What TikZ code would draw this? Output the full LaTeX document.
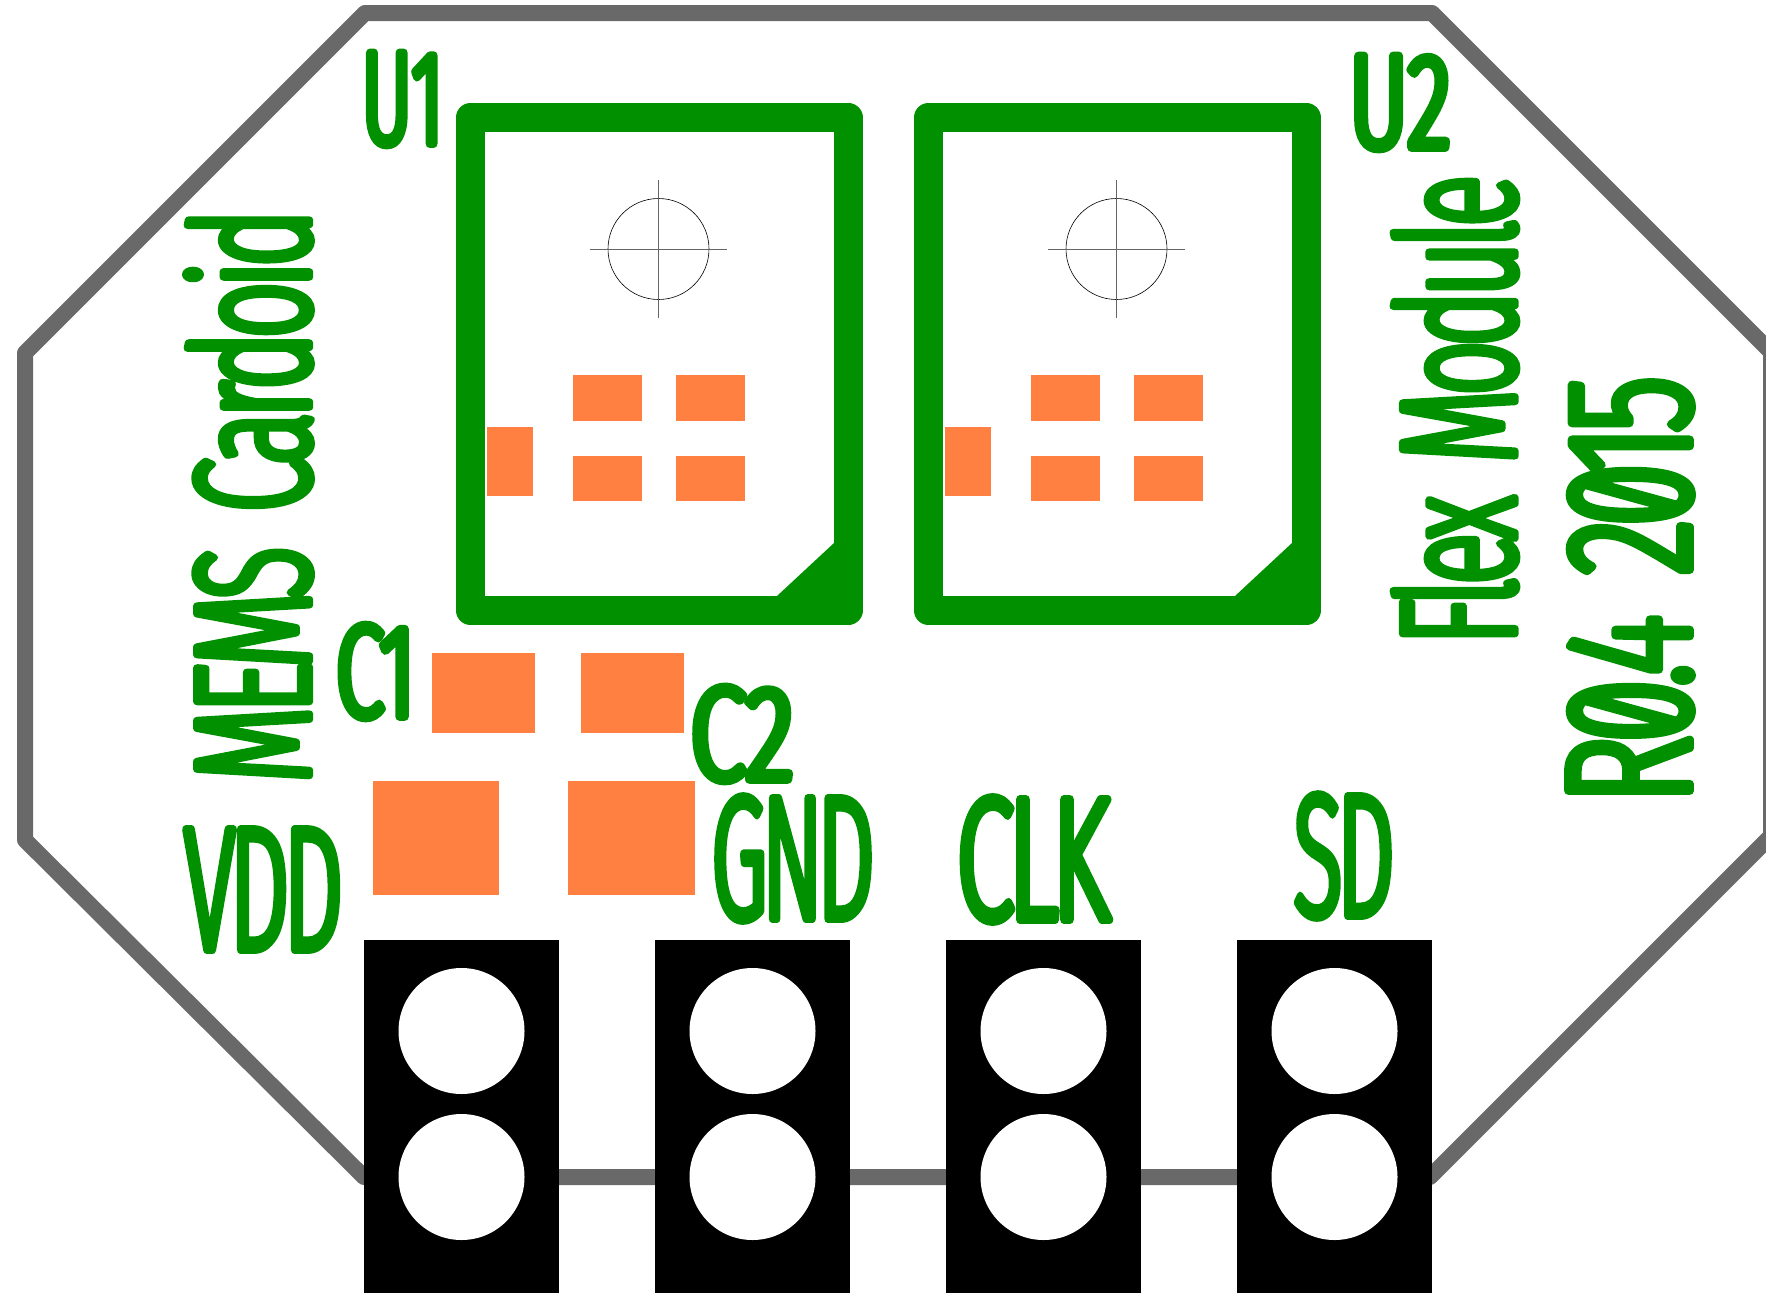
\documentclass[tikz,border=0pt]{standalone}
\usepackage{fontspec}
\usepackage{graphicx}
\newfontfamily\pcbbig[FakeStretch=0.7,FakeBold=5,LetterSpace=-4,WordSpace=1.6,RawFeature={+zero}]{Fira Sans Light}
\newfontfamily\pcbsmall[FakeStretch=0.64,FakeBold=6.2,RawFeature={+zero}]{Fira Sans Light}
\definecolor{silk}{RGB}{0,144,0}
\definecolor{edgegray}{RGB}{105,105,105}
\definecolor{padorange}{RGB}{255,128,64}
\tikzset{
  outline/.style={draw=edgegray,line width=16pt,line join=round},
  frame/.style={draw=silk,line width=29pt,line join=round},
  smd/.style={fill=padorange,draw=none},
  header/.style={fill=black,draw=none},
  hole/.style={fill=white,draw=none,circle,minimum size=126pt,inner sep=0pt},
  target/.style={draw=black,line width=0.6pt},
  crosshair/.style={draw=black!60,line width=0.7pt},
  pcb/.style={inner sep=0pt,outer sep=0pt,text=silk}
}
% name, centre x, centre y, rotation, length along text, height, font, text
\newcommand{\pcbtext}[8]{\node[pcb,rotate=#4] (#1) at (#2,#3) {\special{pdf:code 1 j 1 J}\resizebox{\dimexpr#5pt-9pt\relax}{\dimexpr#6pt-9pt\relax}{#7#8}};}
\newcommand{\bigsize}{\fontsize{180}{180}\selectfont\pcbbig}
\newcommand{\smallsize}{\fontsize{145}{145}\selectfont\pcbsmall}
\begin{document}
\begin{tikzpicture}[x=1pt,y=-1pt]
\useasboundingbox (0,0) rectangle (1766,1301);
\clip (0,0) rectangle (1766,1301);
% board outline
\draw[outline] (365,13) -- (1432,13) -- (1771,352) -- (1771,836) -- (1430,1177) -- (364,1177) -- (25,840) -- (25,353) -- cycle;
% component frames
\foreach \dx/\n in {0/a,458/b}{
  \begin{scope}[xshift=\dx pt]
  \draw[frame] (470.5,117.5) rectangle (848,610.5);
  \fill[silk] (777,596) -- (834,543) -- (848,596) -- cycle;
  \fill[smd] (487,427) rectangle (533,496);
  \fill[smd] (573,375) rectangle (642,421);
  \fill[smd] (676,375) rectangle (745,421);
  \fill[smd] (573,456) rectangle (642,501);
  \fill[smd] (676,456) rectangle (745,501);
  \draw[target] (658.5,249) circle (50.5);
  \draw[crosshair] (590,249) -- (727,249);
  \draw[crosshair] (658.5,180) -- (658.5,318);
  \end{scope}
}
% capacitor pads
\fill[smd] (432,653) rectangle (535,733);
\fill[smd] (581,653) rectangle (684,733);
\fill[smd] (373,781) rectangle (499,895);
\fill[smd] (568,781) rectangle (695,895);
% header pads
\foreach \px/\n in {364/a,655/b,946/c,1237/d}{
  \fill[header] (\px,940) rectangle ++(195,353);
  \node[hole] (hole1\n) at (\px+97.5,1031) {};
  \node[hole] (hole2\n) at (\px+97.5,1177) {};
}
% silkscreen text
\pcbtext{uone}{402.5}{99}{0}{90}{100}{\smallsize}{U1}
\pcbtext{utwo}{1400}{102.5}{0}{110}{101}{\smallsize}{U2}
\pcbtext{title}{248.5}{496}{90}{582}{132}{\bigsize}{MEMS Cardoid}
\pcbtext{flex}{1455}{410}{90}{478}{130}{\bigsize}{Flex Module}
\pcbtext{rev}{1630}{590}{90}{436}{130}{\bigsize}{R0.4 2015}
\pcbtext{vdd}{263.5}{889.5}{0}{168}{129}{\bigsize}{VDD}
\pcbtext{cone}{375.5}{671.5}{0}{88}{101}{\smallsize}{C1}
\pcbtext{ctwo}{742}{734}{0}{112}{102}{\smallsize}{C2}
\pcbtext{gnd}{793}{858.5}{0}{172}{131}{\bigsize}{GND}
\pcbtext{clk}{1033}{859.5}{0}{162}{131}{\bigsize}{CLK}
\pcbtext{sd}{1344}{856}{0}{110}{130}{\bigsize}{SD}
\end{tikzpicture}
\end{document}
